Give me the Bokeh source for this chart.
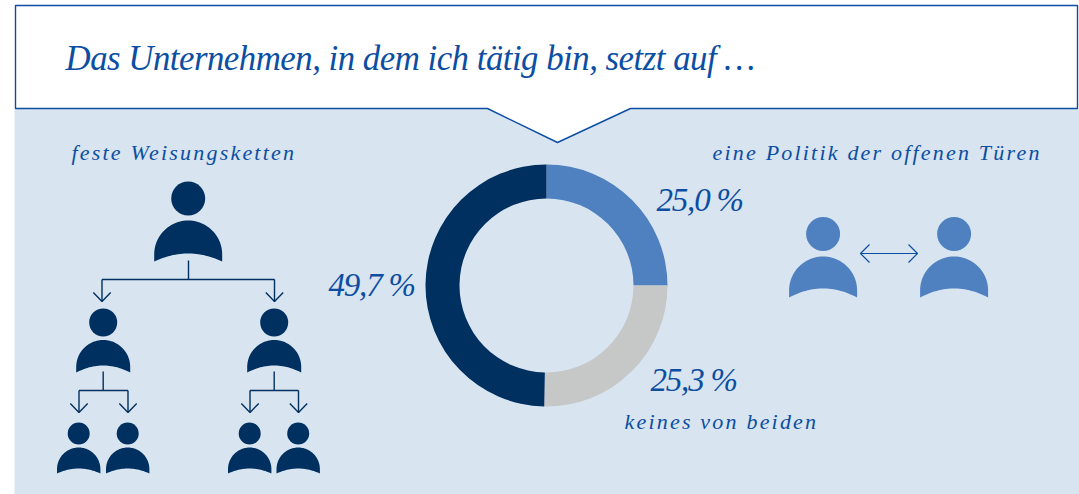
import numpy as np
from bokeh.plotting import figure
from bokeh.models import Range1d
from bokeh.core.properties import value
from bokeh.embed import file_html
from bokeh.resources import INLINE

W, H = 1079, 494
FONT = "Liberation Serif"

# data
categories = ["eine Politik der offenen Türen", "keines von beiden", "feste Weisungsketten"]
shares = [25.0, 25.3, 49.7]
share_labels = ["25,0 %", "25,3 %", "49,7 %"]
title_text = "Das Unternehmen, in dem ich tätig bin, setzt auf …"
slice_colors = ["#4f81c0", "#c6c7c7", "#003060"]

PANEL = "#d8e4f0"
NAVY = "#003060"
BLUE = "#4f81c0"
INK = "#0b4ea2"


def Y(v):
    return H - np.asarray(v, dtype=float)


def make_fig(fill):
    f = figure(width=W, height=H, x_range=Range1d(0, W), y_range=Range1d(0, H),
               output_backend="svg", toolbar_location=None, min_border=0,
               background_fill_color=fill, border_fill_color=fill,
               outline_line_color=None)
    f.axis.visible = False
    f.grid.visible = False
    return f


def overlay(spacing):
    f = make_fig(None)
    f.styles = {"position": "absolute", "left": "0", "top": "0", "letter-spacing": spacing,
                "pointer-events": "none"}
    return f


p = make_fig("white")
p.styles = {"position": "absolute", "left": "0", "top": "0"}

# panel and speech box
p.quad(left=[14], right=[W], bottom=[0], top=[H - 108], fill_color=PANEL, line_color=None)
bx = [15, 1077, 1077, 630, 557, 487, 15]
by = [5, 5, 108, 108, 142, 108, 108]
p.patch(bx, Y(by), fill_color="white", line_color=INK, line_width=1.4)


def person(cx, hy, r, hw, top, corner, apex, color):
    p.circle(x=[cx], y=Y([hy]), radius=r, fill_color=color, line_color=None)
    th = np.linspace(np.pi, 2 * np.pi, 60)
    xs = cx + hw * np.cos(th)
    ys = top + hw + hw * np.sin(th)
    t = np.linspace(1, -1, 30)
    bxs = cx + hw * t
    bys = corner - (corner - apex) * (1 - t ** 2)
    p.patch(np.r_[xs, bxs], Y(np.r_[ys, bys]), fill_color=color, line_color=None)


def seg(xs, ys, color=NAVY, w=1.4):
    p.line(xs, Y(ys), line_color=color, line_width=w)


def arrow_down(x, tip):
    seg([x - 8.7, x, x + 8.7], [tip - 9, tip, tip - 9])


def fork(cx, y0, ybar, xl, xr, tip):
    seg([cx, cx], [y0, ybar])
    seg([xl, xr], [ybar, ybar])
    seg([xl, xl], [ybar, tip])
    seg([xr, xr], [ybar, tip])
    arrow_down(xl, tip)
    arrow_down(xr, tip)


person(187.7, 198, 17, 34, 220, 261, 253, NAVY)
fork(188, 260, 279, 101.5, 274, 301)
for cx, kids in [(102.7, (78.5, 127.5)), (273.7, (249.5, 298))]:
    person(cx, 322, 14, 27, 339.5, 372, 365, NAVY)
    fork(cx, 371, 390, kids[0], kids[1], 412)
    for k in kids:
        person(k - 0.3, 433, 11, 21.7, 447, 473, 468, NAVY)

for cx in (822.6, 953.6):
    person(cx, 233.5, 17, 34, 256, 297, 288, BLUE)
seg([860, 917], [253, 253], INK, 1.2)
seg([869, 860, 869], [244, 253, 262], INK, 1.2)
seg([908, 917, 908], [244, 253, 262], INK, 1.2)

# donut
fr = np.cumsum([0] + shares) / sum(shares)
starts = np.pi / 2 - 2 * np.pi * fr[1:]
ends = np.pi / 2 - 2 * np.pi * fr[:-1]
p.annular_wedge(x=[546] * 3, y=Y([285] * 3), inner_radius=87, outer_radius=121,
                start_angle=starts, end_angle=ends,
                fill_color=slice_colors, line_color=None)

# overlay: title
t = overlay("-0.5px")
t.text(x=[65], y=Y([57.5]), text=[title_text], text_font=value(FONT), text_font_style="italic",
       text_font_size="34.8px", text_color=INK, text_baseline="alphabetic")

# overlay: shares
r = overlay("-1.2px")
r.text(x=[656, 650, 328], y=Y([199.5, 379.5, 284.5]), text=share_labels, text_font=value(FONT),
       text_font_style="italic", text_font_size="33px", text_color=INK, text_baseline="alphabetic")

# overlay: tracked texts
q = overlay("2.2px")
q.text(x=[712, 624, 71], y=Y([152, 421, 152]), text=categories, text_font=value(FONT),
       text_font_style="italic", text_font_size="22px", text_color=INK, text_baseline="alphabetic")

open("out.html", "w").write(file_html([p, t, r, q], INLINE))
